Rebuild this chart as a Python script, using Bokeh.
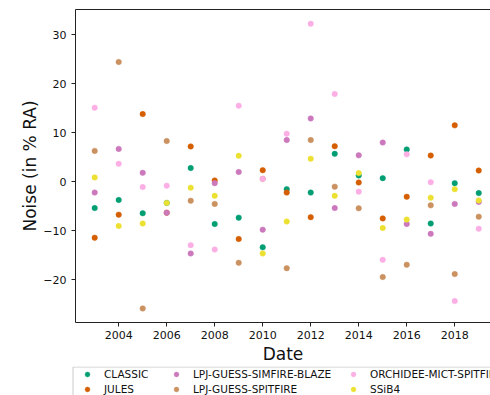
from bokeh.plotting import figure
from bokeh.layouts import column
from bokeh.models import (Range1d, FixedTicker, CustomJSTickFormatter, Legend,
                          LegendItem, LinearAxis)
from bokeh.embed import file_html
from bokeh.resources import INLINE

years = list(range(2003, 2020))

classic = [-5.35, -3.7, -6.4, -4.3, 2.8, -8.6, -7.3, -13.35, -1.5, -2.2, 5.7,
           1.3, 0.75, 6.6, -8.5, -0.27, -2.3]
jules = [-11.4, -6.7, 13.8, -6.3, 7.2, 0.27, -11.65, 2.37, -2.2, -7.2, 7.25,
         -0.14, -7.45, -3.05, 5.35, 11.5, 2.3]
lpj_blaze = [-2.2, 6.7, 1.83, -6.3, -14.6, -0.27, 2.0, -9.75, 8.5, 12.9, -5.35,
             5.4, 8.0, -8.6, -10.6, -4.5, -4.1]
lpj_spitfire = [6.3, 24.4, -25.8, 8.3, -3.86, -4.5, -16.5, 0.6, -17.6, 8.5, -1.0,
                -5.4, -19.4, -16.9, -4.8, -18.8, -7.1]
orchidee = [15.1, 3.66, -1.08, -0.8, -12.9, -13.8, 15.5, 0.6, 9.8, 32.2, 17.9,
            -2.0, -15.9, 5.6, -0.07, -24.3, -9.55]
ssib4 = [0.9, -9.0, -8.5, -4.3, -1.2, -2.85, 5.3, -14.6, -8.1, 4.7, -2.85,
         1.77, -9.4, -7.7, -3.25, -1.5, -3.8]

model_names = ["CLASSIC", "JULES", "LPJ-GUESS-SIMFIRE-BLAZE",
               "LPJ-GUESS-SPITFIRE", "ORCHIDEE-MICT-SPITFIRE", "SSiB4"]
model_values = [classic, jules, lpj_blaze, lpj_spitfire, orchidee, ssib4]
model_colors = ["#029e73", "#d55e00", "#cc78bc", "#ca9161", "#fbafe4", "#ece133"]

x_ticks = [2004, 2006, 2008, 2010, 2012, 2014, 2016, 2018]
y_ticks = [-20, -10, 0, 10, 20, 30]

FONT = "DejaVu Sans"
INK = "#111111"
SPINE = "#222222"
DOT = 5.5

# ---- main scatter panel ----
p = figure(width=490, height=366, output_backend="svg", toolbar_location=None,
           x_range=Range1d(2002.2, 2019.49), y_range=Range1d(-28.66, 35.1),
           min_border_left=75, min_border_right=0, min_border_top=9,
           min_border_bottom=43, outline_line_color=None)
p.grid.visible = False

for name, vals, col in zip(model_names, model_values, model_colors):
    p.scatter(years, vals, size=DOT, fill_color=col, line_color=col,
              line_width=0.5)

minus_fmt = CustomJSTickFormatter(
    code="return (tick < 0 ? '\\u2212' : '') + Math.abs(tick).toFixed(0);")

for ax in (p.xaxis[0], p.yaxis[0]):
    ax.axis_line_color = SPINE
    ax.axis_line_width = 1
    ax.major_tick_line_color = SPINE
    ax.major_tick_out = 4
    ax.major_tick_in = 0
    ax.minor_tick_line_color = None
    ax.major_label_text_font = FONT
    ax.major_label_text_font_size = "11px"
    ax.major_label_text_color = INK
    ax.axis_label_text_font = FONT
    ax.axis_label_text_font_size = "17px"
    ax.axis_label_text_font_style = "normal"
    ax.axis_label_text_color = INK

p.xaxis[0].ticker = FixedTicker(ticks=x_ticks)
p.xaxis[0].axis_label = "Date"
p.xaxis[0].major_label_standoff = 4
p.xaxis[0].axis_label_standoff = 2

p.yaxis[0].ticker = FixedTicker(ticks=y_ticks)
p.yaxis[0].formatter = minus_fmt
p.yaxis[0].axis_label = "Noise (in % RA)"
p.yaxis[0].major_label_standoff = 5
p.yaxis[0].axis_label_standoff = 0

# top spine only (no right spine)
top = LinearAxis(major_tick_line_color=None, minor_tick_line_color=None,
                 major_label_text_color=None, major_tick_out=0,
                 major_label_standoff=0, axis_line_color=SPINE)
p.add_layout(top, "above")

# ---- legend strip under the axes (units = canvas pixels) ----
lg = figure(width=490, height=29, output_backend="svg", toolbar_location=None,
            x_range=Range1d(0, 490), y_range=Range1d(0, 29), min_border=0,
            x_axis_location=None, y_axis_location=None,
            outline_line_color=None)
lg.frame_align = False
lg.grid.visible = False

# legend frame
lg.quad(left=[72.5], right=[530], top=[28.5], bottom=[-20],
        fill_color="white", line_color="#cccccc", line_width=1)

renderers = []
for col in model_colors:
    renderers.append(lg.scatter(x=[-50], y=[-50], size=DOT, fill_color=col,
                                line_color=col, line_width=0.5))

# three columns of two entries each
col_left = [81, 170, 347]
for c, xl in enumerate(col_left):
    items = [LegendItem(label=model_names[i], renderers=[renderers[i]])
             for i in (2 * c, 2 * c + 1)]
    leg = Legend(items=items, orientation="vertical", location=(xl, -1.5),
                 margin=0, padding=0, spacing=0, glyph_width=12,
                 glyph_height=12, label_standoff=11, label_height=15,
                 label_text_font=FONT, label_text_font_size="10.5px",
                 label_text_color=INK, border_line_color=None,
                 background_fill_alpha=0)
    lg.add_layout(leg, "center")

layout = column(p, lg, spacing=0)
open("out.html", "w").write(file_html(layout, INLINE))
